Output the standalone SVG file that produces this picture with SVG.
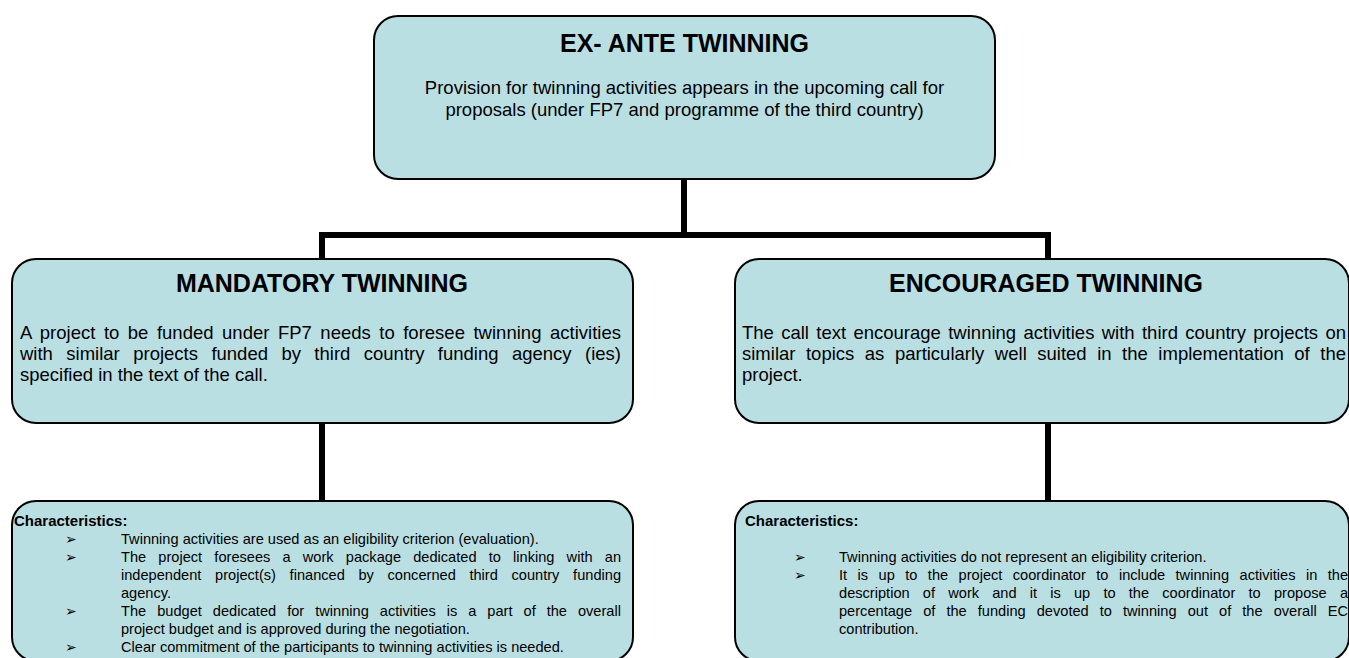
<svg xmlns="http://www.w3.org/2000/svg" width="1349" height="658" viewBox="0 0 1349 658">
<style>
.box{fill:#BADFE3;stroke:#000;stroke-width:2}
.conn{stroke:#000;stroke-width:6;fill:none;stroke-linecap:butt}
.t{font-family:"Liberation Sans",Arial,sans-serif;font-weight:bold;font-size:25px;fill:#000;text-anchor:middle}
.b{font-family:"Liberation Sans",Arial,sans-serif;font-size:18.5px;fill:#000}
.bc{text-anchor:middle}
.h{font-family:"Liberation Sans",Arial,sans-serif;font-weight:bold;font-size:15px;fill:#000}
.s{font-family:"Liberation Sans",Arial,sans-serif;font-size:14.6px;fill:#000}
.bul{font-family:"DejaVu Sans",sans-serif;font-size:14px;fill:#000}
</style>
<rect width="1349" height="658" fill="#fff"/>
<g id="connectors">
<path class="conn" d="M684 179V235M322 258V235H1048V258"/>
<path class="conn" d="M322 423V501"/>
<path class="conn" d="M1048 423V501"/>
</g>
<g id="exante">
<rect class="box" x="374" y="16" width="621" height="163" rx="24"/>
<text class="t" x="684.5" y="52">EX- ANTE TWINNING</text>
<text class="b bc" x="684.5" y="94">Provision for twinning activities appears in the upcoming call for</text>
<text class="b bc" x="684.5" y="116">proposals (under FP7 and programme of the third country)</text>
</g>
<g id="mandatory">
<rect class="box" x="12" y="259" width="621" height="164" rx="24"/>
<text class="t" x="322" y="292">MANDATORY TWINNING</text>
<text class="b" x="20" y="339" word-spacing="3.3" textLength="601" lengthAdjust="spacing">A project to be funded under FP7 needs to foresee twinning activities</text>
<text class="b" x="20" y="360" word-spacing="8.3" textLength="601" lengthAdjust="spacing">with similar projects funded by third country funding agency (ies)</text>
<text class="b" x="20" y="381">specified in the text of the call.</text>
</g>
<g id="encouraged">
<rect class="box" x="735" y="259" width="614" height="164" rx="24"/>
<text class="t" x="1046" y="292">ENCOURAGED TWINNING</text>
<text class="b" x="742" y="339" word-spacing="2.2" textLength="604" lengthAdjust="spacing">The call text encourage twinning activities with third country projects on</text>
<text class="b" x="742" y="360" word-spacing="5.4" textLength="604" lengthAdjust="spacing">similar topics as particularly well suited in the implementation of the</text>
<text class="b" x="742" y="381">project.</text>
</g>
<g id="mandatory-char">
<rect class="box" x="12" y="501" width="621" height="160" rx="24"/>
<text class="h" x="14" y="526">Characteristics:</text>
<text class="bul" x="65" y="544">➢</text>
<text class="s" x="121" y="544">Twinning activities are used as an eligibility criterion (evaluation).</text>
<text class="bul" x="65" y="562">➢</text>
<text class="s" x="121" y="562" word-spacing="8.1" textLength="500" lengthAdjust="spacing">The project foresees a work package dedicated to linking with an</text>
<text class="s" x="121" y="580" word-spacing="9.6" textLength="500" lengthAdjust="spacing">independent project(s) financed by concerned third country funding</text>
<text class="s" x="121" y="598">agency.</text>
<text class="bul" x="65" y="616">➢</text>
<text class="s" x="121" y="616" word-spacing="6.9" textLength="500" lengthAdjust="spacing">The budget dedicated for twinning activities is a part of the overall</text>
<text class="s" x="121" y="634">project budget and is approved during the negotiation.</text>
<text class="bul" x="65" y="652">➢</text>
<text class="s" x="121" y="652">Clear commitment of the participants to twinning activities is needed.</text>
</g>
<g id="encouraged-char">
<rect class="box" x="735" y="501" width="614" height="160" rx="24"/>
<text class="h" x="745" y="526">Characteristics:</text>
<text class="bul" x="794" y="562">➢</text>
<text class="s" x="839" y="562">Twinning activities do not represent an eligibility criterion.</text>
<text class="bul" x="794" y="580">➢</text>
<text class="s" x="839" y="580" word-spacing="6.4" textLength="509" lengthAdjust="spacing">It is up to the project coordinator to include twinning activities in the</text>
<text class="s" x="839" y="598" word-spacing="9.1" textLength="509" lengthAdjust="spacing">description of work and it is up to the coordinator to propose a</text>
<text class="s" x="839" y="616" word-spacing="7" textLength="509" lengthAdjust="spacing">percentage of the funding devoted to twinning out of the overall EC</text>
<text class="s" x="839" y="634">contribution.</text>
</g>
</svg>
